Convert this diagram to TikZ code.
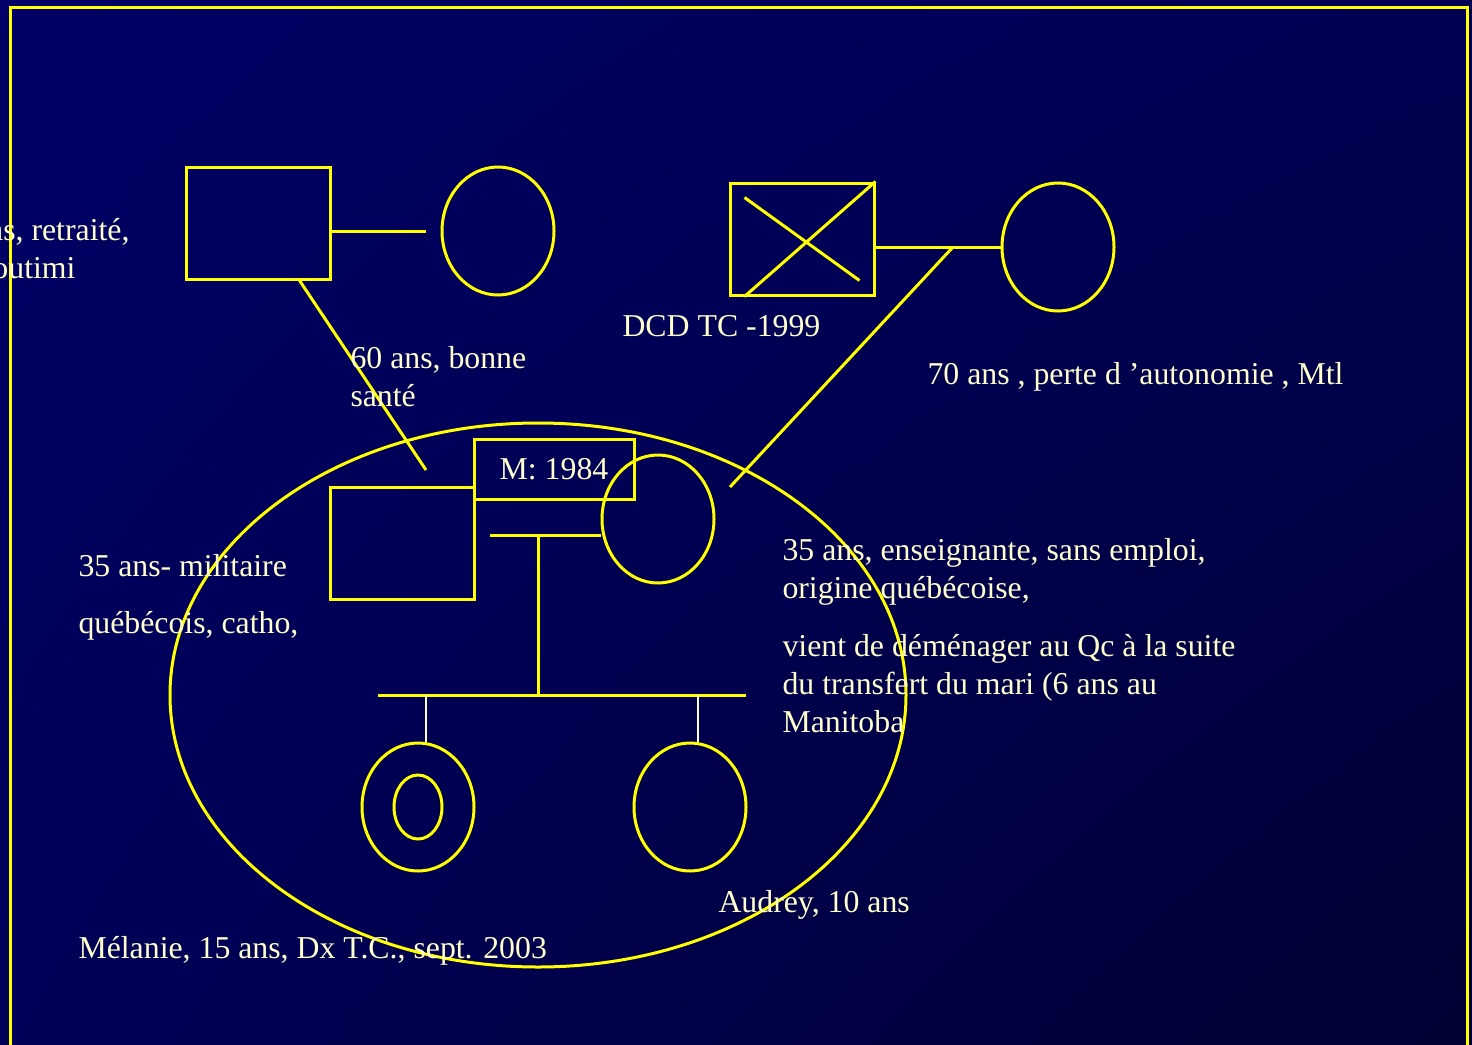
\documentclass[tikz,border=0pt]{standalone}
\usepackage{fontspec}
\setmainfont{Liberation Serif}
\usepackage{tikz}
\usetikzlibrary{shapes,positioning,calc,shadings}
\usepackage{xcolor}
\definecolor{jaune}{RGB}{255,255,0}
\definecolor{creme}{RGB}{255,255,204}
\definecolor{fondA}{RGB}{0,0,102}
\definecolor{fondB}{RGB}{0,0,82}
\definecolor{fondC}{RGB}{0,0,88}
\definecolor{fondD}{RGB}{0,0,50}

\begin{document}
\begin{tikzpicture}[x=0.5pt, y=-0.5pt, line width=1.5pt,
    homme/.style={draw=jaune, rectangle, minimum width=72pt, minimum height=56pt, inner sep=0pt},
    femme/.style={draw=jaune, ellipse, minimum width=56pt, minimum height=64pt, inner sep=0pt},
    lien/.style={draw=jaune},
    texte/.style={text=creme, font=\fontsize{15.9}{19}\selectfont, anchor=base west, inner sep=0pt}]
    \useasboundingbox (0,0) rectangle (1472,1044);
    \clip (0,0) rectangle (1472,1044);
    \shade[upper left=fondA, upper right=fondB, lower left=fondC, lower right=fondD] (0,0) rectangle (1472,1044);
    \draw[jaune] (10,1060) -- (10,7) -- (1467,7) -- (1467,1060);

    % grands-parents paternels
    \node[homme] (gpere) at (258,223) {};
    \node[femme] (gmere) at (498,231) {};
    \coordinate (g1) at (426,231);
    \coordinate (g2) at (426,470);
    \draw[lien] (gpere.east |- g1) -- (g1);
    \draw[lien] ([xshift=-16pt]gpere.south east) -- (g2);
    \node[texte, anchor=base east] (tgp1) at (131,240) {ans, retraité,};
    \node[texte, anchor=base east] (tgp2) at (77,278) {Chicoutimi};
    \node[texte] (tgm1) at (349,368) {60 ans, bonne};
    \node[texte] (tgm2) at (349,406) {santé};

    % grands-parents maternels
    \node[homme] (gpere2) at (802,239) {};
    \draw[jaune] ([xshift=8pt,yshift=-8pt]gpere2.north west) -- ([xshift=-8pt,yshift=8pt]gpere2.south east);
    \draw[jaune] ([xshift=8pt]gpere2.south west) -- (gpere2.north east);
    \node[femme] (gmere2) at (1058,247) {};
    \coordinate (g3) at (953,247);
    \coordinate (g4) at (730,487);
    \draw[lien] (gpere2.east |- g3) -- (gmere2.west);
    \draw[lien] (g3) -- (g4);
    \node[texte] (tdcd) at (621,336) {DCD TC -1999};
    \node[texte] (tgm3) at (926,384) {70 ans , perte d ’autonomie , Mtl};

    % famille nucleaire
    \node[draw=jaune, ellipse, minimum width=368pt, minimum height=272pt] (menage) at (538,695) {};
    \node[homme] (pere) at (402,543) {};
    \node[draw=jaune, rectangle, minimum width=80pt, minimum height=30pt, inner sep=0pt, text=creme,
          font=\fontsize{15.9}{19}\selectfont] (mariage) at (554,469) {M: 1984};
    \node[femme] (mere) at (658,519) {};
    \coordinate (m1) at (490,535);
    \coordinate (m2) at (538,535);
    \coordinate (f1) at (538,695);
    \coordinate (f2) at (378,695);
    \coordinate (f3) at (746,695);
    \draw[lien] (m1) -- (m1 -| mere.west);
    \draw[lien] (m2) -- (f1);
    \draw[lien] (f2) -- (f3);

    % enfants
    \node[femme] (melanie) at (418,807) {};
    \node[draw=jaune, ellipse, minimum width=24pt, minimum height=32pt, inner sep=0pt] (tc) at (418,807) {};
    \node[femme] (audrey) at (690,807) {};
    \draw[creme, line width=1pt] ([xshift=4pt]melanie.north |- f2) -- ([xshift=4pt]melanie.north);
    \draw[creme, line width=1pt] ([xshift=4pt]audrey.north |- f2) -- ([xshift=4pt]audrey.north);

    \node[texte] (tpere1) at (77,576) {35 ans- militaire};
    \node[texte] (tpere2) at (77,633) {québécois, catho,};
    \node[texte] (tmere1) at (781,560) {35 ans, enseignante, sans emploi,};
    \node[texte] (tmere2) at (781,598) {origine québécoise,};
    \node[texte] (tmere3) at (781,656) {vient de déménager au Qc à la suite};
    \node[texte] (tmere4) at (781,694) {du transfert du mari (6 ans au};
    \node[texte] (tmere5) at (781,732) {Manitoba};
    \node[texte] (taudrey) at (717,912) {Audrey, 10 ans};
    \node[texte] (tmelanie) at (77,958) {Mélanie, 15 ans, Dx T.C., sept. 2003};
\end{tikzpicture}
\end{document}
